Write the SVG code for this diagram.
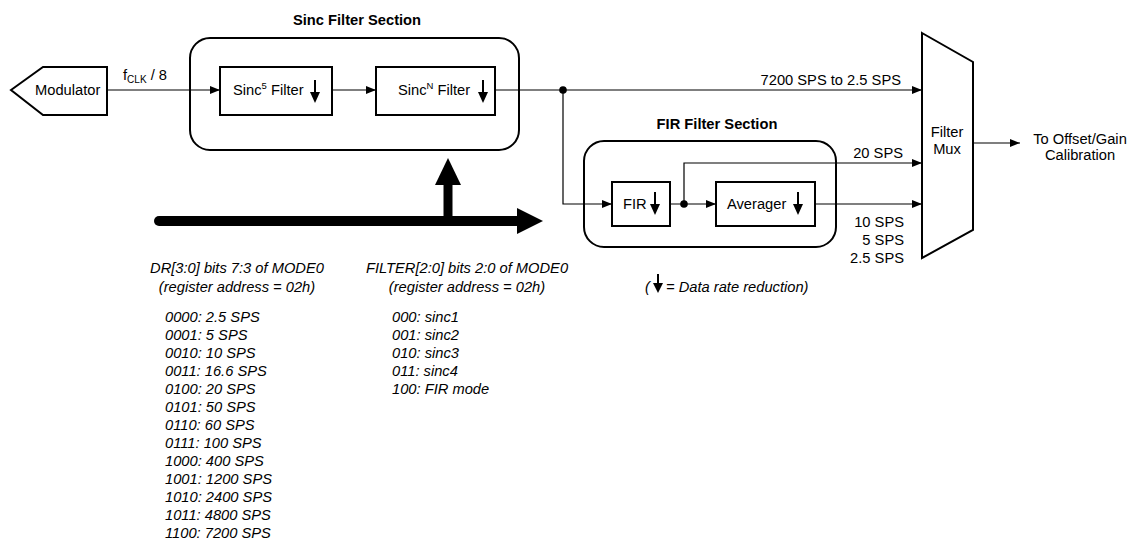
<svg xmlns="http://www.w3.org/2000/svg" width="1131" height="540" viewBox="0 0 1131 540">
<style>
text{font-family:"Liberation Sans",Arial,sans-serif;font-size:14.7px;fill:#000}
.b{font-weight:bold}
.i{font-style:italic}
.box{fill:#fff;stroke:#000;stroke-width:2}
.sec{fill:none;stroke:#000;stroke-width:2}
.ln{fill:none;stroke:#000;stroke-width:1.2}
.thick{fill:none;stroke:#000;stroke-width:10}
.m{text-anchor:middle}
.e{text-anchor:end}
</style>
<defs>
<marker id="ah" markerUnits="userSpaceOnUse" markerWidth="10" markerHeight="8" refX="10" refY="4" orient="auto"><path d="M0,0 L10,4 L0,8 z" fill="#000"/></marker>
<g id="dn"><line x1="0" y1="-11" x2="0" y2="2" stroke="#000" stroke-width="2"/><path d="M-5,1 L5,1 L0,12 z" fill="#000"/></g>
</defs>

<g id="sinc-section">
<rect class="sec" x="190" y="38" width="329" height="112" rx="20"/>
<text class="b m" x="357" y="25">Sinc Filter Section</text>
</g>
<g id="fir-section">
<rect class="sec" x="584" y="141" width="252" height="106" rx="20"/>
<text class="b m" x="717" y="129">FIR Filter Section</text>
</g>

<g id="connectors">
<line class="ln" x1="107" y1="90" x2="220" y2="90" marker-end="url(#ah)"/>
<line class="ln" x1="332" y1="90" x2="376" y2="90" marker-end="url(#ah)"/>
<line class="ln" x1="495" y1="90" x2="922" y2="90" marker-end="url(#ah)"/>
<polyline class="ln" points="563,90 563,204 612,204" marker-end="url(#ah)"/>
<line class="ln" x1="670" y1="204" x2="716" y2="204" marker-end="url(#ah)"/>
<polyline class="ln" points="684,204 684,163 922,163" marker-end="url(#ah)"/>
<line class="ln" x1="815" y1="204" x2="922" y2="204" marker-end="url(#ah)"/>
<line class="ln" x1="973" y1="143" x2="1020" y2="143" marker-end="url(#ah)"/>
<circle cx="563" cy="90" r="3.8" fill="#000"/>
<circle cx="684" cy="204" r="3.8" fill="#000"/>
<text x="123" y="80">f<tspan font-size="10" dy="3">CLK</tspan><tspan dy="-3"> / 8</tspan></text>
<text class="e" x="901" y="85">7200 SPS to 2.5 SPS</text>
<text class="e" x="903" y="158">20 SPS</text>
<text class="e" x="904" y="227">10 SPS</text>
<text class="e" x="904" y="245">5 SPS</text>
<text class="e" x="904" y="263">2.5 SPS</text>
</g>

<g id="control-bus">
<line class="thick" x1="159" y1="221" x2="520" y2="221" stroke-linecap="round"/>
<path d="M517,208 L543,221 L517,234 z" fill="#000"/>
<line x1="448" y1="221" x2="448" y2="183" stroke="#000" stroke-width="9"/>
<path d="M435,185 L448,158 L461,185 z" fill="#000"/>
</g>

<g id="modulator">
<path class="box" d="M11,90 L43,67 L107,67 L107,115 L43,115 z"/>
<text x="35" y="95">Modulator</text>
</g>

<g id="sinc5">
<rect class="box" x="220" y="67" width="112" height="48"/>
<text x="233" y="95">Sinc<tspan font-size="9.5" dy="-6">5</tspan><tspan dy="6"> Filter</tspan></text>
<use href="#dn" x="315" y="91"/>
</g>

<g id="sincN">
<rect class="box" x="376" y="67" width="119" height="48"/>
<text x="398" y="95">Sinc<tspan font-size="9.5" dy="-6">N</tspan><tspan dy="6"> Filter</tspan></text>
<use href="#dn" x="483" y="91"/>
</g>

<g id="fir">
<rect class="box" x="612" y="182" width="58" height="44"/>
<text x="623" y="209">FIR</text>
<use href="#dn" x="655" y="203"/>
</g>

<g id="averager">
<rect class="box" x="716" y="182" width="99" height="44"/>
<text x="727" y="209">Averager</text>
<use href="#dn" x="798" y="203"/>
</g>

<g id="mux">
<path class="box" d="M922,33 L973,62 L973,230 L922,258 z"/>
<text class="m" x="947" y="137">Filter</text>
<text class="m" x="947" y="154">Mux</text>
</g>

<g id="output">
<text class="m" x="1080" y="144">To Offset/Gain</text>
<text class="m" x="1080" y="160">Calibration</text>
</g>

<g id="legend">
<text class="i" x="645" y="292">(</text>
<line x1="658" y1="274" x2="658" y2="285" stroke="#000" stroke-width="2"/>
<path d="M653,283 L663,283 L658,293 z" fill="#000"/>
<text class="i" x="666" y="292">= Data rate reduction)</text>
</g>

<g id="dr-notes">
<text class="i m" x="237" y="273">DR[3:0] bits 7:3 of MODE0</text>
<text class="i m" x="237" y="292">(register address = 02h)</text>
<text class="i" x="165" y="322">0000: 2.5 SPS</text>
<text class="i" x="165" y="340">0001: 5 SPS</text>
<text class="i" x="165" y="358">0010: 10 SPS</text>
<text class="i" x="165" y="376">0011: 16.6 SPS</text>
<text class="i" x="165" y="394">0100: 20 SPS</text>
<text class="i" x="165" y="412">0101: 50 SPS</text>
<text class="i" x="165" y="430">0110: 60 SPS</text>
<text class="i" x="165" y="448">0111: 100 SPS</text>
<text class="i" x="165" y="466">1000: 400 SPS</text>
<text class="i" x="165" y="484">1001: 1200 SPS</text>
<text class="i" x="165" y="502">1010: 2400 SPS</text>
<text class="i" x="165" y="520">1011: 4800 SPS</text>
<text class="i" x="165" y="538">1100: 7200 SPS</text>
</g>

<g id="filter-notes">
<text class="i m" x="467" y="273">FILTER[2:0] bits 2:0 of MODE0</text>
<text class="i m" x="467" y="292">(register address = 02h)</text>
<text class="i" x="392" y="322">000: sinc1</text>
<text class="i" x="392" y="340">001: sinc2</text>
<text class="i" x="392" y="358">010: sinc3</text>
<text class="i" x="392" y="376">011: sinc4</text>
<text class="i" x="392" y="394">100: FIR mode</text>
</g>
</svg>
